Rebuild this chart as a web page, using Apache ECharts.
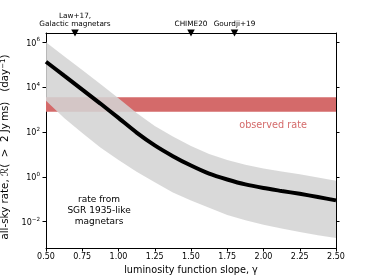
<!DOCTYPE html>
<html><head><meta charset="utf-8">
<script src="https://cdn.jsdelivr.net/npm/echarts@6/dist/echarts.min.js"></script>
<style>html,body{margin:0;padding:0;background:#fff}#c{width:374px;height:280px}</style>
</head><body><div id="c"></div>
<script>
// luminosity function slope (x)
const gammaVals = [0.5,0.625,0.75,0.875,1.0,1.125,1.25,1.375,1.5,1.625,1.75,1.875,2.0,2.125,2.25,2.375,2.5];
// all-sky rate, central estimate (day^-1)
const rateMid = [1.32e5,3.16e4,7.6e3,1.82e3,417,93,25,8.3,3.16,1.38,0.76,0.457,0.316,0.234,0.174,0.126,0.089];
// upper edge of uncertainty band
const rateUpper = [9.8e5,2.34e5,5.6e4,1.35e4,3.1e3,692,182,62,23.4,10.2,5.6,3.4,2.34,1.74,1.29,0.93,0.66];
// lower edge of uncertainty band
const rateLower = [2.4e3,417,89,20,5.6,1.66,0.575,0.2,0.089,0.042,0.02,0.0115,0.0074,0.005,0.0035,0.0025,0.0019];
// observed rate range (day^-1)
const observedRate = [794, 3470];
// reference markers on top axis
const refNames = ['Law+17,\nGalactic magnetars', 'CHIME20', 'Gourdji+19'];
const refGamma = [0.7, 1.5, 1.8];
// annotations
const annoObs = {text: 'observed rate', x: 2.066, y: 200};
const annoSgr = {text: 'rate from\nSGR 1935-like\nmagnetars', x: 0.866, y: 0.031};
// axis ticks
const xMin = 0.5, xMax = 2.5, xStep = 0.25;
const yMin = Math.pow(10, -3.17), yMax = Math.pow(10, 6.4);
const yTickVals = [1e-2, 1, 1e2, 1e4, 1e6];

const chart = echarts.init(document.getElementById('c'), null, {renderer: 'canvas'});
const FONT = 'DejaVu Sans';
const supRich = {
  b: {fontSize: 8, fontFamily: FONT, color: '#000', lineHeight: 11, verticalAlign: 'bottom'},
  s: {fontSize: 5.6, fontFamily: FONT, color: '#000', lineHeight: 11, verticalAlign: 'top'}
};
function expLabel(v) {
  const e = Math.round(Math.log10(v));
  return '{b|10}{s|' + (e < 0 ? '\u2212' + (-e) : e) + '}';
}
const bandData = gammaVals.map((g, i) => [g, rateLower[i], rateUpper[i]]);

const option = {
  animation: false,
  backgroundColor: '#fff',
  grid: {left: 46, right: 38, top: 33, bottom: 32, show: false, containLabel: false, outerBoundsMode: 'none'},
  xAxis: [{
    type: 'value', min: xMin, max: xMax, interval: xStep, position: 'bottom',
    name: 'luminosity function slope, \u03b3', nameLocation: 'middle', nameGap: 17,
    nameTextStyle: {fontSize: 9.7, fontFamily: FONT, color: '#000'},
    axisLine: {show: true, onZero: false, lineStyle: {color: '#000', width: 1}},
    axisTick: {show: true, inside: false, length: 3.5, lineStyle: {color: '#000'}},
    axisLabel: {fontSize: 8, fontFamily: FONT, color: '#000', margin: 5, formatter: v => v.toFixed(2)},
    splitLine: {show: false}
  }, {
    type: 'value', min: xMin, max: xMax, position: 'top',
    axisLine: {show: true, onZero: false, lineStyle: {color: '#000', width: 1}},
    axisTick: {show: false}, axisLabel: {show: false}, splitLine: {show: false}
  }],
  yAxis: [{
    type: 'log', logBase: 10, min: yMin, max: yMax, position: 'left',
    name: 'all-sky rate, \u211B(  >  2 Jy\u2009ms)   (day{s|\u22121})    ', nameLocation: 'middle', nameGap: 25, nameRotate: 90,
    nameTextStyle: {fontSize: 10.3, fontFamily: FONT, color: '#000',
      rich: {s: {fontSize: 7, fontFamily: FONT, color: '#000', verticalAlign: 'top', lineHeight: 12}}},
    axisLine: {show: true, onZero: false, lineStyle: {color: '#000', width: 1}},
    axisTick: {show: true, inside: false, length: 3.5, customValues: yTickVals, lineStyle: {color: '#000'}},
    minorTick: {show: false},
    axisLabel: {customValues: yTickVals, formatter: expLabel, rich: supRich, margin: 6},
    splitLine: {show: false}
  }, {
    type: 'log', logBase: 10, min: yMin, max: yMax, position: 'right',
    axisLine: {show: true, onZero: false, lineStyle: {color: '#000', width: 1}},
    axisTick: {show: true, inside: false, length: 3.5, customValues: yTickVals, lineStyle: {color: '#000'}},
    axisLabel: {show: false}, splitLine: {show: false}
  }],
  series: [
    {
      type: 'custom', z: 1, silent: true,
      data: [[xMin, observedRate[0], xMax, observedRate[1]]],
      renderItem: function (params, api) {
        const p1 = api.coord([api.value(0), api.value(3)]);
        const p2 = api.coord([api.value(2), api.value(1)]);
        return {type: 'rect', shape: {x: p1[0], y: p1[1], width: p2[0] - p1[0], height: p2[1] - p1[1]},
          style: {fill: '#d46a6a'}};
      }
    },
    {
      type: 'custom', z: 2, silent: true,
      data: bandData,
      encode: {x: 0, y: [1, 2]},
      renderItem: function (params, api) {
        if (params.dataIndex !== 0) return null;
        const pts = [];
        for (let i = 0; i < bandData.length; i++) pts.push(api.coord([bandData[i][0], bandData[i][2]]));
        for (let i = bandData.length - 1; i >= 0; i--) pts.push(api.coord([bandData[i][0], bandData[i][1]]));
        return {type: 'polygon', shape: {points: pts, smooth: 0}, style: {fill: 'rgba(211,211,211,0.87)'}};
      }
    },
    {
      type: 'line', z: 3, silent: true,
      data: gammaVals.map((g, i) => [g, rateMid[i]]),
      showSymbol: false, smooth: 0.2,
      lineStyle: {color: '#000', width: 4}
    },
    {
      type: 'scatter', z: 5, silent: true, clip: false,
      data: refGamma.map((g, i) => ({value: [g, yMax], name: refNames[i]})),
      symbol: 'triangle', symbolRotate: 180, symbolSize: [7.5, 7],
      itemStyle: {color: '#000', opacity: 1},
      label: {show: true, position: 'top', distance: 1, formatter: p => p.name,
        fontSize: 7.3, fontFamily: FONT, color: '#000', lineHeight: 8, align: 'center'}
    },
    {
      type: 'scatter', z: 5, silent: true, symbolSize: 0,
      itemStyle: {opacity: 1},
      data: [
        {value: [annoObs.x, annoObs.y], name: annoObs.text, label: {color: '#d46a6a', fontSize: 9.7}},
        {value: [annoSgr.x, annoSgr.y], name: annoSgr.text, label: {color: '#000', fontSize: 9, lineHeight: 11}}
      ],
      label: {show: true, position: 'inside', formatter: p => p.name, fontFamily: FONT, align: 'center',
        color: '#000', textBorderWidth: 0}
    }
  ]
};
chart.setOption(option);
</script>
</body></html>
